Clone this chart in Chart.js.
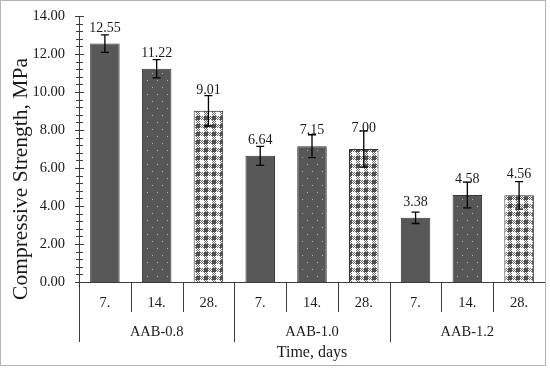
<!DOCTYPE html>
<html>
<head>
<meta charset="utf-8">
<script src="https://cdn.jsdelivr.net/npm/chart.js@4.4.0/dist/chart.umd.min.js"></script>
<style>
  html, body { margin: 0; padding: 0; background: #fff; }
  #wrap { position: relative; width: 550px; height: 369px; }
  #frame { position: absolute; left: 0; top: 0; width: 546px; height: 366px; box-sizing: border-box;
           border: 1px solid #b4b4b4; pointer-events: none; }
</style>
</head>
<body>
<div id="wrap">
  <canvas id="grafico" width="550" height="369"></canvas>
  <div id="frame"></div>
</div>
<script>
// datos del grafico
const groups = ['AAB-0.8', 'AAB-1.0', 'AAB-1.2'];
const days = ['7.', '14.', '28.'];
const day7 = [12.55, 6.64, 3.38];
const day14 = [11.22, 7.15, 4.58];
const day28 = [9.01, 7.00, 4.56];
const err7 = [0.46, 0.50, 0.30];
const err14 = [0.48, 0.60, 0.68];
const err28 = [0.80, 0.95, 0.72];
const yTicks = [0, 2, 4, 6, 8, 10, 12, 14];

const FONT = 'Liberation Serif';
const TEXT = '#1a1a1a';
const AXIS = '#3c3c3c';

const canvas = document.getElementById('grafico');
const c2d = canvas.getContext('2d');

// patrones de relleno de las barras
function makePattern(kind) {
  const t = document.createElement('canvas');
  const g = t.getContext('2d');
  if (kind === 'dots') {
    t.width = 10; t.height = 14;
    g.fillStyle = '#575757'; g.fillRect(0, 0, 10, 14);
    g.fillStyle = '#b4b4b4';
    g.fillRect(2, 3, 1, 1);
    g.fillRect(7, 10, 1, 1);
  } else {
    t.width = 8; t.height = 8;
    g.fillStyle = '#ffffff'; g.fillRect(0, 0, 8, 8);
    g.fillStyle = '#6a6a6a';
    for (let y = 0; y < 8; y++) {
      for (let x = 0; x < 8; x++) {
        const band = x >= 4 || y >= 4;
        if (band && (x + y) % 2 === 0) g.fillRect(x, y, 1, 1);
      }
    }
    g.fillStyle = '#4e4e4e'; g.fillRect(4, 4, 4, 4);
  }
  return c2d.createPattern(t, 'repeat');
}

const fills = ['#585858', makePattern('dots'), makePattern('check')];
const series = [day7, day14, day28];
const errs = [err7, err14, err28];
const labelLift = [12, 12, 17];

// se arma una barra por categoria (grupo x dia)
const labels = [], values = [], errors = [], colors = [], lifts = [];
groups.forEach((g, gi) => {
  days.forEach((d, di) => {
    labels.push(d);
    values.push(series[di][gi]);
    errors.push(errs[di][gi]);
    colors.push(fills[di]);
    lifts.push(labelLift[di]);
  });
});

// plugin: barras de error, etiquetas, marcas del eje y divisiones del eje x
const extras = {
  id: 'extras',
  afterDatasetsDraw(chart) {
    const ctx = chart.ctx;
    const x = chart.scales.x, y = chart.scales.y;
    const area = chart.chartArea;
    const meta = chart.getDatasetMeta(0);
    ctx.save();

    // barras de error
    ctx.strokeStyle = '#000';
    ctx.lineWidth = 1.3;
    meta.data.forEach((bar, i) => {
      const hi = y.getPixelForValue(values[i] + errors[i]);
      const lo = y.getPixelForValue(values[i] - errors[i]);
      ctx.beginPath();
      ctx.moveTo(bar.x, hi); ctx.lineTo(bar.x, lo);
      ctx.moveTo(bar.x - 4, hi); ctx.lineTo(bar.x + 4, hi);
      ctx.moveTo(bar.x - 4, lo); ctx.lineTo(bar.x + 4, lo);
      ctx.stroke();
    });

    // etiquetas de valores
    ctx.fillStyle = TEXT;
    ctx.font = '14px "' + FONT + '"';
    ctx.textAlign = 'center';
    ctx.textBaseline = 'alphabetic';
    meta.data.forEach((bar, i) => {
      ctx.fillText(values[i].toFixed(2), bar.x, bar.y - lifts[i]);
    });

    // marcas del eje Y (mayores y menores)
    ctx.strokeStyle = AXIS;
    ctx.lineWidth = 1;
    const ax = Math.round(area.left) + 0.5;
    for (let v = 0; v <= 14.001; v += 0.4) {
      const py = Math.round(y.getPixelForValue(v)) + 0.5;
      const major = Math.abs(v / 2 - Math.round(v / 2)) < 0.01;
      const len = major ? 4.5 : 3.5;
      ctx.beginPath();
      ctx.moveTo(ax - len, py); ctx.lineTo(ax + len, py);
      ctx.stroke();
    }

    // divisiones del eje X
    const bottom = area.bottom;
    const n = labels.length;
    for (let i = 0; i <= n; i++) {
      const px = i === 0 ? x.getPixelForValue(0) - (x.getPixelForValue(1) - x.getPixelForValue(0)) / 2
        : (i === n ? area.right : (x.getPixelForValue(i - 1) + x.getPixelForValue(i)) / 2);
      const isGroup = i % days.length === 0;
      const lx = Math.round(px) + 0.5;
      ctx.beginPath();
      ctx.moveTo(lx, bottom);
      ctx.lineTo(lx, bottom + (isGroup ? 60 : 30));
      ctx.stroke();
    }

    // nombres de grupo
    ctx.fillStyle = TEXT;
    ctx.font = '14.5px "' + FONT + '"';
    ctx.textBaseline = 'middle';
    groups.forEach((g, gi) => {
      const a = x.getPixelForValue(gi * days.length);
      const b = x.getPixelForValue(gi * days.length + days.length - 1);
      ctx.fillText(g, (a + b) / 2, bottom + 50);
    });

    // titulo del eje X
    ctx.font = '16px "' + FONT + '"';
    ctx.fillText('Time, days', (area.left + area.right) / 2, bottom + 71);

    // titulo del eje Y
    ctx.translate(21, 179);
    ctx.rotate(-Math.PI / 2);
    ctx.font = '21.5px "' + FONT + '"';
    ctx.fillText('Compressive Strength, MPa', 0, 0);
    ctx.restore();
  }
};

new Chart(canvas, {
  type: 'bar',
  data: {
    labels: labels,
    datasets: [{
      data: values,
      backgroundColor: colors,
      borderColor: '#333333',
      borderWidth: 1,
      barPercentage: 0.57,
      categoryPercentage: 1.0
    }]
  },
  options: {
    responsive: false,
    animation: false,
    events: [],
    layout: { padding: { top: 16, right: 5, left: 0, bottom: 0 } },
    plugins: {
      legend: { display: false },
      tooltip: { enabled: false }
    },
    scales: {
      x: {
        offset: true,
        grid: { display: false, drawTicks: false },
        border: { display: true, color: AXIS, width: 1 },
        ticks: { color: TEXT, font: { family: FONT, size: 14.5 }, padding: 12, maxRotation: 0, autoSkip: false },
        afterFit(scale) {
          scale.height = 87;
          scale.paddingLeft = 0; scale.paddingRight = 0;
        }
      },
      y: {
        min: 0,
        max: 14,
        afterBuildTicks(scale) { scale.ticks = yTicks.map(v => ({ value: v })); },
        grid: { display: false, drawTicks: false },
        border: { display: true, color: AXIS, width: 1 },
        ticks: {
          color: TEXT,
          font: { family: FONT, size: 14.5 },
          padding: 14,
          callback: v => Number(v).toFixed(2)
        },
        afterFit(scale) {
          scale.width = 79;
          scale.paddingTop = 0; scale.paddingBottom = 0;
        }
      }
    }
  },
  plugins: [extras]
});
</script>
</body>
</html>
